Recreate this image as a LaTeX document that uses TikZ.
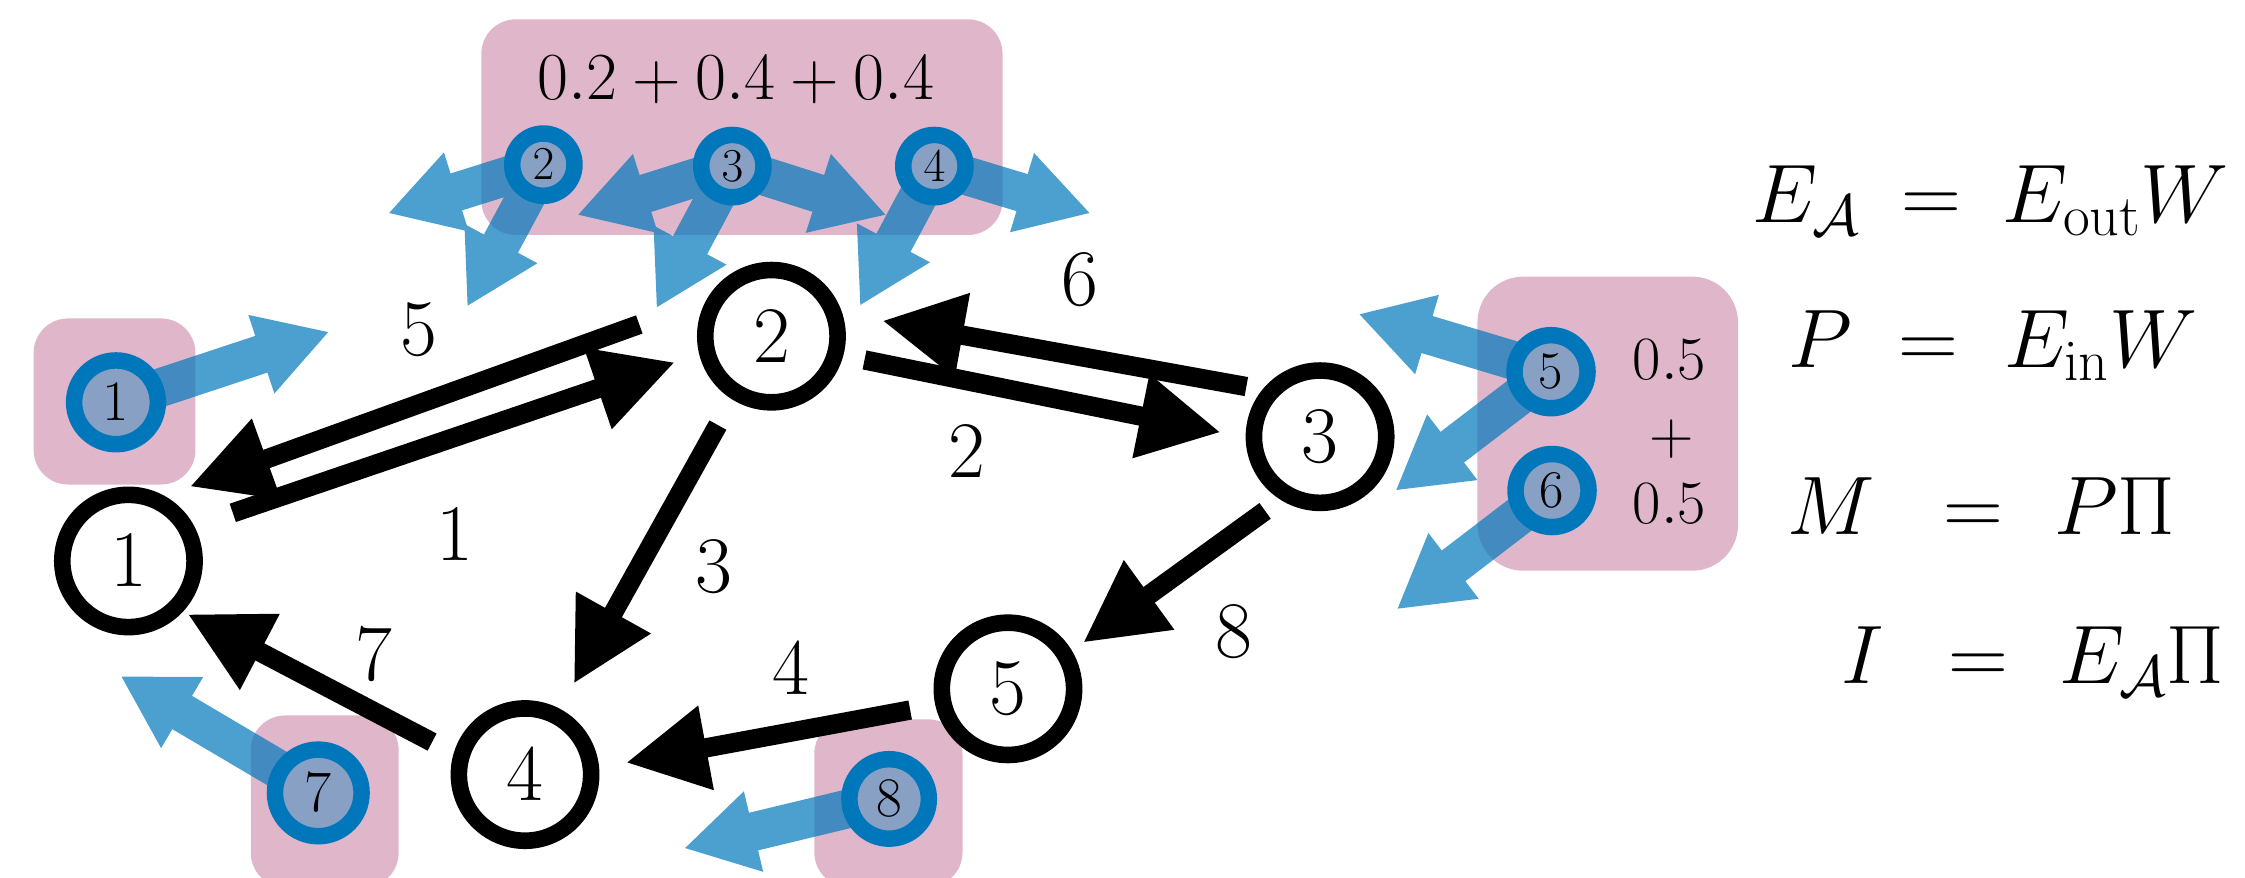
\RequirePackage{fix-cm}
\documentclass[tikz,border=0pt]{standalone}
\usetikzlibrary{arrows.meta}
\definecolor{boxpink}{RGB}{224,183,202}
\definecolor{ringblue}{RGB}{0,119,187}
\definecolor{corefill}{RGB}{135,160,196}
\pgfdeclarelayer{back}
\pgfsetlayers{back,main}
\tikzset{
  graphnode/.style={circle, draw=black, line width=11.6pt, fill=white,
    minimum size=92.4pt, inner sep=0pt, font=\fontsize{56}{60}\selectfont},
  agent/.style={circle, draw=ringblue, line width=11.5pt, fill=corefill,
    inner sep=0pt, minimum size=#1},
  groupbox/.style={rectangle, rounded corners=24pt, fill=boxpink, inner sep=0pt},
  flow/.style={line width=13.5pt, -{Triangle[length=57pt,width=56pt]}},
  push/.style={ringblue, line width=27pt, -{Triangle[length=50pt,width=54pt]}},
  weight/.style={font=\fontsize{56}{60}\selectfont, inner sep=0pt},
  share/.style={font=\fontsize{43}{47}\selectfont, inner sep=0pt},
  formula/.style={font=\fontsize{58}{62}\selectfont, inner sep=0pt, anchor=base west},
}
\begin{document}
\begin{tikzpicture}[x=1pt,y=-1pt]
\useasboundingbox (0,0) rectangle (1568,613);

% agents
\node[agent=58.5pt, font=\fontsize{40}{44}\selectfont] (a1) at (81,281) {$1$};
\node[agent=43.5pt, font=\fontsize{33}{36}\selectfont] (a2) at (379.5,115) {$2$};
\node[agent=43.5pt, font=\fontsize{33}{36}\selectfont] (a3) at (511.5,116) {$3$};
\node[agent=43.5pt, font=\fontsize{33}{36}\selectfont] (a4) at (652.6,116) {$4$};
\node[agent=51pt, font=\fontsize{37}{40}\selectfont] (a5) at (1083.3,259.6) {$5$};
\node[agent=51pt, font=\fontsize{37}{40}\selectfont] (a6) at (1084,342.6) {$6$};
\node[agent=60.5pt, font=\fontsize{41}{44}\selectfont] (a7) at (222.3,553.8) {$7$};
\node[agent=55.5pt, font=\fontsize{39}{42}\selectfont] (a8) at (621,558) {$8$};

% where the agents push
\coordinate (t1) at (230,231.7);
\coordinate (t2a) at (271,149);
\coordinate (t2b) at (326.2,214.2);
\coordinate (t3a) at (403.1,150.2);
\coordinate (t3b) at (458.4,215.3);
\coordinate (t3c) at (619.2,150.2);
\coordinate (t4a) at (600.5,213.7);
\coordinate (t4b) at (761.7,149);
\coordinate (t5a) at (948.8,219.3);
\coordinate (t5b) at (974.6,342.7);
\coordinate (t6) at (975.5,425.6);
\coordinate (t7) at (84.2,472.2);
\coordinate (t8) at (477.7,592.5);

\begin{pgfonlayer}{back}
  % grouping boxes
  \node[groupbox, minimum width=113pt, minimum height=116pt] (g1) at (80,280.4) {};
  \node[groupbox, minimum width=364pt, minimum height=150.6pt] (g234) at (518.2,88.8) {};
  \node[groupbox, minimum width=182pt, minimum height=205.4pt, rounded corners=32pt] (g56) at (1122.9,295.9) {};
  \node[groupbox, minimum width=103.2pt, minimum height=120pt] (g7) at (226.8,559.7) {};
  \node[groupbox, minimum width=103.5pt, minimum height=117pt] (g8) at (620.5,560.9) {};
  % pushes, see-through as one layer
  \begin{scope}[transparency group, opacity=0.7]
    \draw[push] (a1.center) -- (t1);
    \draw[push] (a2.center) -- (t2a);
    \draw[push] (a2.center) -- (t2b);
    \draw[push] (a3.center) -- (t3a);
    \draw[push] (a3.center) -- (t3b);
    \draw[push] (a3.center) -- (t3c);
    \draw[push] (a4.center) -- (t4a);
    \draw[push] (a4.center) -- (t4b);
    \draw[push] (a5.center) -- (t5a);
    \draw[push] (a5.center) -- (t5b);
    \draw[push] (a6.center) -- (t6);
    \draw[push] (a7.center) -- (t7);
    \draw[push] (a8.center) -- (t8);
  \end{scope}
\end{pgfonlayer}

% graph nodes
\node[graphnode] (n1) at (89.7,391.8) {$1$};
\node[graphnode] (n2) at (538.8,234.8) {$2$};
\node[graphnode] (n3) at (922,305) {$3$};
\node[graphnode] (n4) at (366.7,541) {$4$};
\node[graphnode] (n5) at (704,481.1) {$5$};

% edge end points
\coordinate (e1s) at (162.6,358.2);  \coordinate (e1t) at (471.5,253);
\coordinate (e5s) at (446.5,226.6);  \coordinate (e5t) at (132.5,339.9);
\coordinate (e6s) at (870.5,270);    \coordinate (e6t) at (616.1,224);
\coordinate (e2s) at (603.8,251.4);  \coordinate (e2t) at (852.7,302);
\coordinate (e3s) at (501.4,296.9);  \coordinate (e3t) at (400.7,477.6);
\coordinate (e8s) at (883.6,356.8);  \coordinate (e8t) at (756.4,448.9);
\coordinate (e4s) at (635.7,495.9);  \coordinate (e4t) at (437.1,532.7);
\coordinate (e7s) at (301.8,518.3);  \coordinate (e7t) at (131,428.9);

\draw[flow] (e1s) -- (e1t);
\draw[flow] (e5s) -- (e5t);
\draw[flow] (e6s) -- (e6t);
\draw[flow] (e2s) -- (e2t);
\draw[flow] (e3s) -- (e3t);
\draw[flow] (e8s) -- (e8t);
\draw[flow] (e4s) -- (e4t);
\draw[flow] (e7s) -- (e7t);

% edge labels
\node[weight] (w5) at (292.5,230.3) {$5$};
\node[weight] (w1) at (318,373.3) {$1$};
\node[weight] (w6) at (754,195.6) {$6$};
\node[weight] (w2) at (675.4,315.5) {$2$};
\node[weight] (w3) at (498.5,395.8) {$3$};
\node[weight] (w8) at (862,441) {$8$};
\node[weight] (w4) at (552.5,466.8) {$4$};
\node[weight] (w7) at (261.3,457.5) {$7$};

% shares inside the groups
\node[share, font=\fontsize{47}{50}\selectfont] (s234) at (513.8,56) {$0.2+0.4+0.4$};
\node[share] (s5) at (1166,251.4) {$0.5$};
\node[share] (splus) at (1167.3,306.8) {$+$};
\node[share] (s6) at (1166,351.5) {$0.5$};

% formulas
\node[formula] (f1) at (1224,155.5) {$E_{\mathcal{A}}\mkern4mu=\mkern4mu E_{\mathrm{out}}W$};
\node[formula] (f2) at (1249,257) {$P\mkern5mu=\mkern5mu E_{\mathrm{in}}W$};
\node[formula] (f3) at (1248,373.4) {$M\mkern10mu=\mkern6mu P\Pi$};
\node[formula] (f4) at (1286,477.6) {$I\mkern9mu=\mkern6mu E_{\mathcal{A}}\Pi$};
\end{tikzpicture}
\end{document}
